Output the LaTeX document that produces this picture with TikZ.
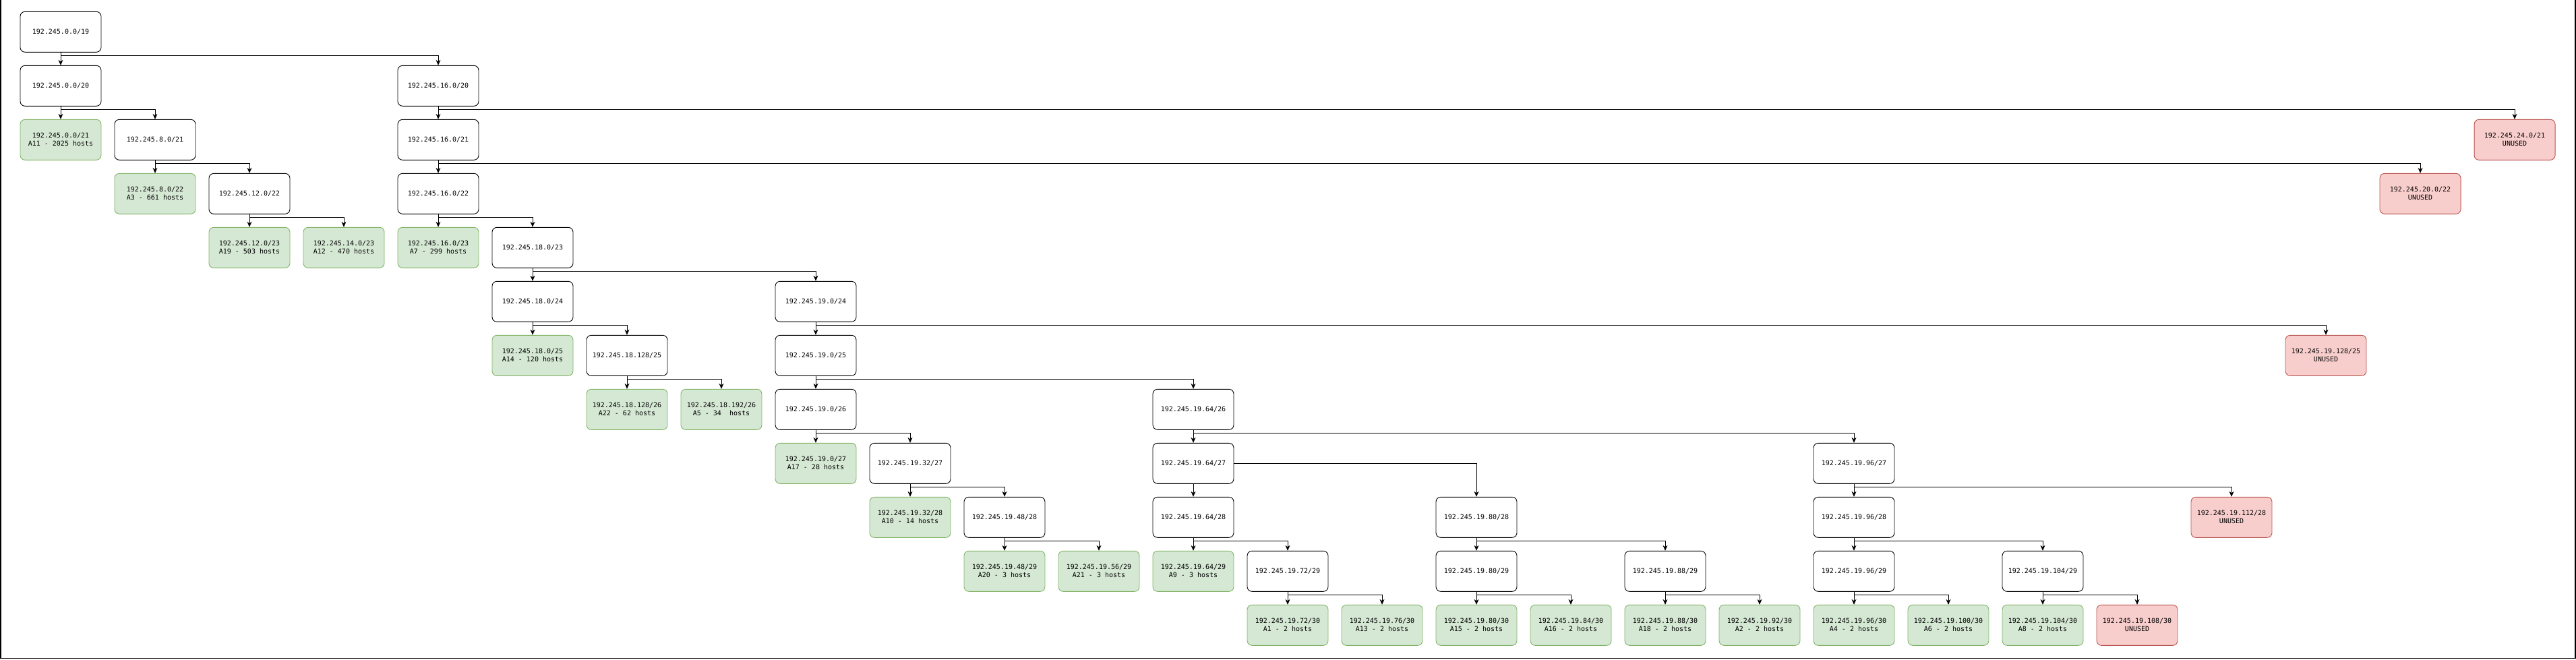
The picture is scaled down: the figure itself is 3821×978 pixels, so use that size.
\documentclass[tikz,border=0pt]{standalone}
\usepackage{fontspec}
\newfontfamily\boxfont{DejaVu Sans Mono}
\usetikzlibrary{arrows.meta}
\definecolor{gfill}{HTML}{D5E8D4}
\definecolor{gline}{HTML}{82B366}
\definecolor{rfill}{HTML}{F8CECC}
\definecolor{rline}{HTML}{B85450}
\begin{document}
\begin{tikzpicture}[x=1pt,y=-1pt,
  base/.style={rectangle,rounded corners=7pt,minimum width=120pt,minimum height=60pt,inner sep=0pt,
    line width=0.9pt,align=center,font=\boxfont\fontsize{10}{12}\selectfont},
  wbox/.style={base,draw=black,fill=white},
  gbox/.style={base,draw=gline,fill=gfill},
  rbox/.style={base,draw=rline,fill=rfill},
  edge/.style={draw=black,line width=0.9pt,-{Stealth[length=8pt,width=7pt,inset=2.5pt]}}]
\useasboundingbox (0,0) rectangle (3821,978);
\draw[line width=1.3pt] (1,0) -- (1,976.5) -- (3820,976.5) -- (3820,0);
% row 1
\node[wbox] (c0r1) at (90,47.3) {192.245.0.0/19};
% row 2
\node[wbox] (c0r2) at (90,127.3) {192.245.0.0/20};
\node[wbox] (c4r2) at (650,127.3) {192.245.16.0/20};
% row 3
\node[gbox] (c0r3) at (90,207.3) {192.245.0.0/21\\A11 - 2025 hosts};
\node[wbox] (c1r3) at (230,207.3) {192.245.8.0/21};
\node[wbox] (c4r3) at (650,207.3) {192.245.16.0/21};
\node[rbox] (c26r3) at (3730,207.3) {192.245.24.0/21\\UNUSED};
% row 4
\node[gbox] (c1r4) at (230,287.3) {192.245.8.0/22\\A3 - 661 hosts};
\node[wbox] (c2r4) at (370,287.3) {192.245.12.0/22};
\node[wbox] (c4r4) at (650,287.3) {192.245.16.0/22};
\node[rbox] (c25r4) at (3590,287.3) {192.245.20.0/22\\UNUSED};
% row 5
\node[gbox] (c2r5) at (370,367.3) {192.245.12.0/23\\A19 - 503 hosts};
\node[gbox] (c3r5) at (510,367.3) {192.245.14.0/23\\A12 - 470 hosts};
\node[gbox] (c4r5) at (650,367.3) {192.245.16.0/23\\A7 - 299 hosts};
\node[wbox] (c5r5) at (790,367.3) {192.245.18.0/23};
% row 6
\node[wbox] (c5r6) at (790,447.3) {192.245.18.0/24};
\node[wbox] (c8r6) at (1210,447.3) {192.245.19.0/24};
% row 7
\node[gbox] (c5r7) at (790,527.3) {192.245.18.0/25\\A14 - 120 hosts};
\node[wbox] (c6r7) at (930,527.3) {192.245.18.128/25};
\node[wbox] (c8r7) at (1210,527.3) {192.245.19.0/25};
\node[rbox] (c24r7) at (3450,527.3) {192.245.19.128/25\\UNUSED};
% row 8
\node[gbox] (c6r8) at (930,607.3) {192.245.18.128/26\\A22 - 62 hosts};
\node[gbox] (c7r8) at (1070,607.3) {192.245.18.192/26\\A5 - 34\ \ hosts};
\node[wbox] (c8r8) at (1210,607.3) {192.245.19.0/26};
\node[wbox] (c12r8) at (1770,607.3) {192.245.19.64/26};
% row 9
\node[gbox] (c8r9) at (1210,687.3) {192.245.19.0/27\\A17 - 28 hosts};
\node[wbox] (c9r9) at (1350,687.3) {192.245.19.32/27};
\node[wbox] (c12r9) at (1770,687.3) {192.245.19.64/27};
\node[wbox] (c19r9) at (2750,687.3) {192.245.19.96/27};
% row 10
\node[gbox] (c9r10) at (1350,767.3) {192.245.19.32/28\\A10 - 14 hosts};
\node[wbox] (c10r10) at (1490,767.3) {192.245.19.48/28};
\node[wbox] (c12r10) at (1770,767.3) {192.245.19.64/28};
\node[wbox] (c15r10) at (2190,767.3) {192.245.19.80/28};
\node[wbox] (c19r10) at (2750,767.3) {192.245.19.96/28};
\node[rbox] (c23r10) at (3310,767.3) {192.245.19.112/28\\UNUSED};
% row 11
\node[gbox] (c10r11) at (1490,847.3) {192.245.19.48/29\\A20 - 3 hosts};
\node[gbox] (c11r11) at (1630,847.3) {192.245.19.56/29\\A21 - 3 hosts};
\node[gbox] (c12r11) at (1770,847.3) {192.245.19.64/29\\A9 - 3 hosts};
\node[wbox] (c13r11) at (1910,847.3) {192.245.19.72/29};
\node[wbox] (c15r11) at (2190,847.3) {192.245.19.80/29};
\node[wbox] (c17r11) at (2470,847.3) {192.245.19.88/29};
\node[wbox] (c19r11) at (2750,847.3) {192.245.19.96/29};
\node[wbox] (c21r11) at (3030,847.3) {192.245.19.104/29};
% row 12
\node[gbox] (c13r12) at (1910,927.3) {192.245.19.72/30\\A1 - 2 hosts};
\node[gbox] (c14r12) at (2050,927.3) {192.245.19.76/30\\A13 - 2 hosts};
\node[gbox] (c15r12) at (2190,927.3) {192.245.19.80/30\\A15 - 2 hosts};
\node[gbox] (c16r12) at (2330,927.3) {192.245.19.84/30\\A16 - 2 hosts};
\node[gbox] (c17r12) at (2470,927.3) {192.245.19.88/30\\A18 - 2 hosts};
\node[gbox] (c18r12) at (2610,927.3) {192.245.19.92/30\\A2 - 2 hosts};
\node[gbox] (c19r12) at (2750,927.3) {192.245.19.96/30\\A4 - 2 hosts};
\node[gbox] (c20r12) at (2890,927.3) {192.245.19.100/30\\A6 - 2 hosts};
\node[gbox] (c21r12) at (3030,927.3) {192.245.19.104/30\\A8 - 2 hosts};
\node[rbox] (c22r12) at (3170,927.3) {192.245.19.108/30\\UNUSED};
% edges
\foreach \p/\l/\r in {c0r1/c0r2/c4r2, c0r2/c0r3/c1r3, c1r3/c1r4/c2r4, c2r4/c2r5/c3r5,
  c4r2/c4r3/c26r3, c4r3/c4r4/c25r4, c4r4/c4r5/c5r5, c5r5/c5r6/c8r6,
  c5r6/c5r7/c6r7, c6r7/c6r8/c7r8, c8r6/c8r7/c24r7, c8r7/c8r8/c12r8,
  c8r8/c8r9/c9r9, c9r9/c9r10/c10r10, c10r10/c10r11/c11r11, c12r8/c12r9/c19r9,
  c12r10/c12r11/c13r11, c13r11/c13r12/c14r12, c15r10/c15r11/c17r11,
  c15r11/c15r12/c16r12, c17r11/c17r12/c18r12, c19r9/c19r10/c23r10,
  c19r10/c19r11/c21r11, c19r11/c19r12/c20r12, c21r11/c21r12/c22r12}
{
  \draw[edge] (\p.south) -- (\l.north);
  \draw[edge] (\p.south) -- ++(0,5) -| (\r.north);
}
\draw[edge] (c12r9.south) -- (c12r10.north);
\draw[edge] (c12r9.east) -| (c15r10.north);
\end{tikzpicture}
\end{document}
